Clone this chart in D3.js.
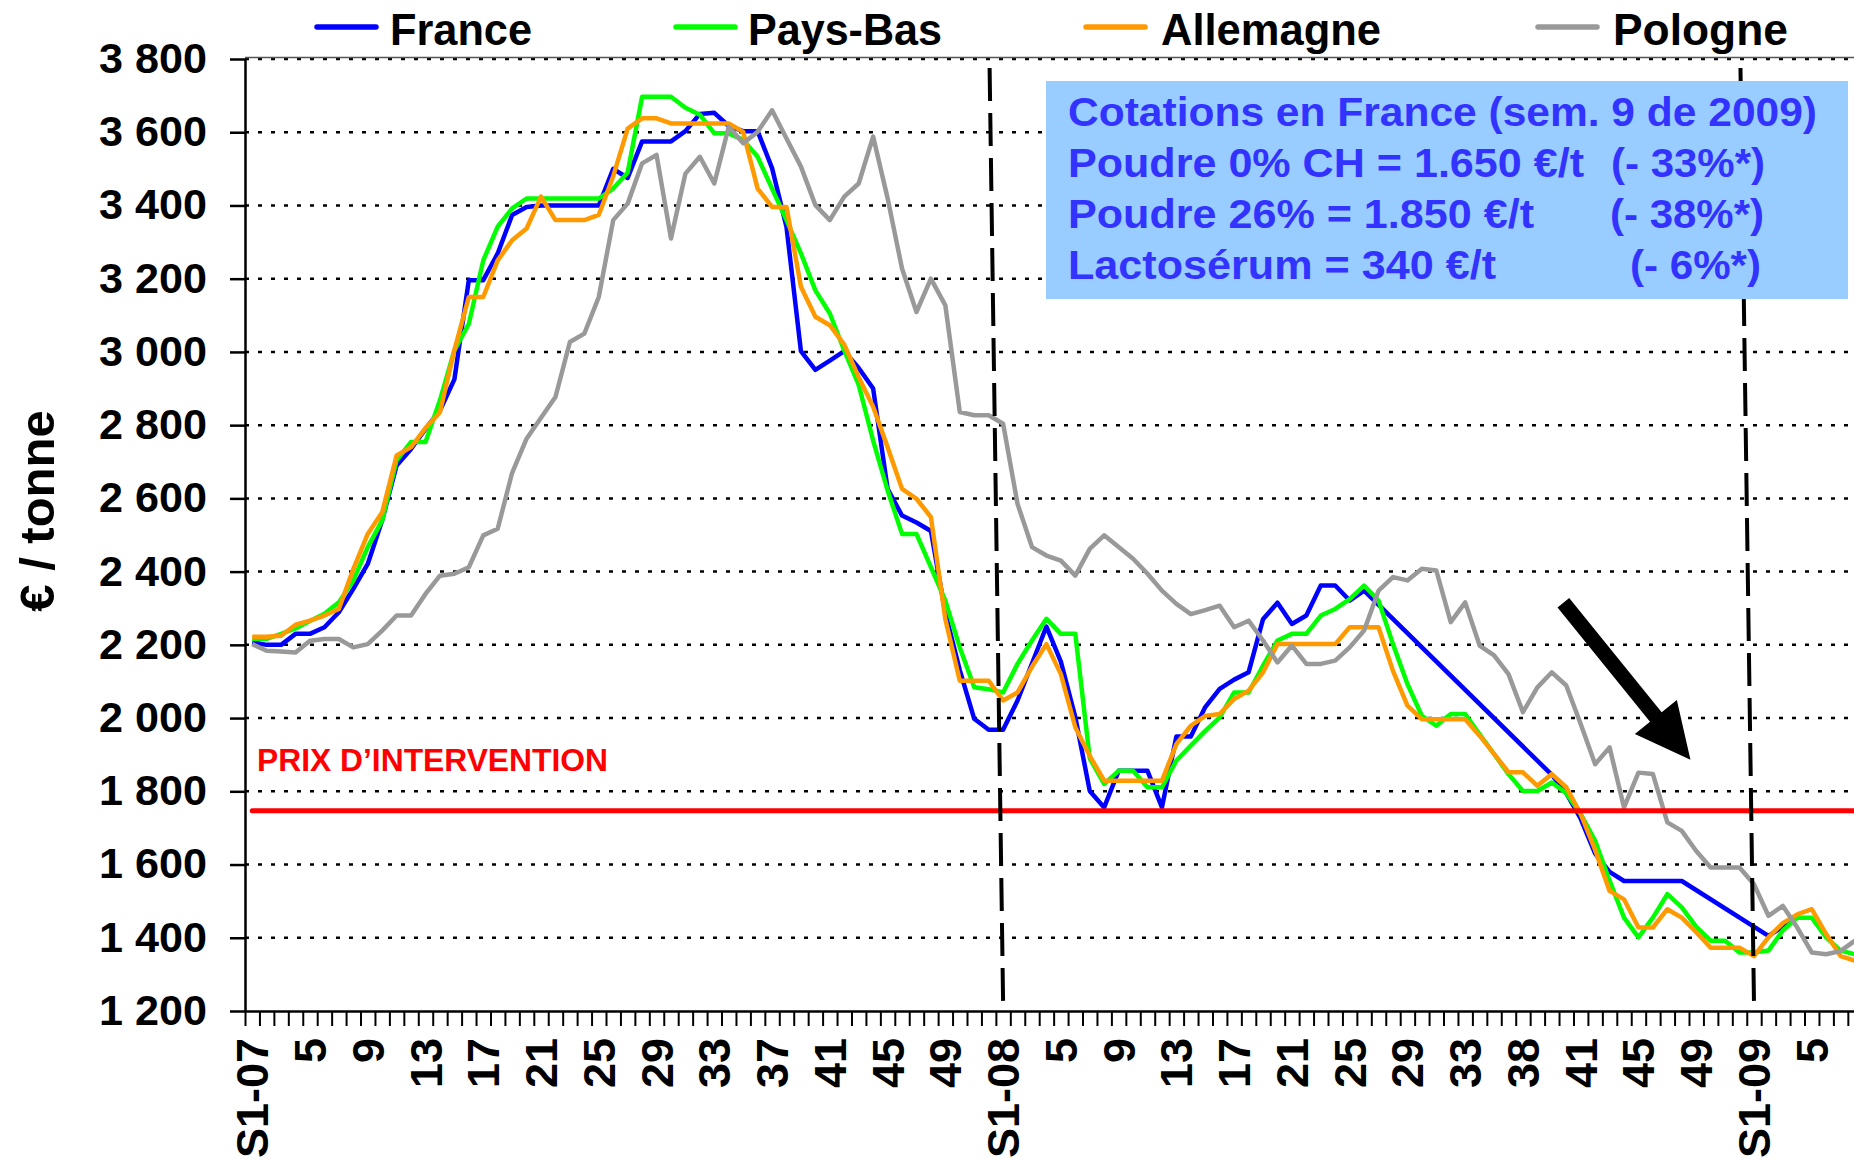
<!DOCTYPE html>
<html>
<head>
<meta charset="utf-8">
<script src="https://cdn.jsdelivr.net/npm/d3@7"></script>
<style>
  body { margin: 0; background: #fff; }
  svg { display: block; font-family: "Liberation Sans", Arial, sans-serif; font-weight: bold; }
</style>
</head>
<body>
<script>
// Constant
const w = 1854;
const h = 1165;

// Weekly quotations in €/t, from S1-07 to S8-09 (null = no quotation that week)
const france = [
  2207, 2200, 2200, 2230, 2230, 2248, 2289, 2353, 2421, 2540, 2690, 2735, 2790, 2840, 2925, 3196,
  3196, 3269, 3374, 3396, 3400, 3400, 3400, 3400, 3400, 3500, 3475, 3575, 3575, 3575, 3603, 3650,
  3653, 3617, 3603, 3603, 3502, 3341, 3002, 2951, 2976, 3002, 2956, 2900, 2626, 2553, 2534, 2511,
  2287, 2131, 1998, 1968, 1968, 2048, 2149, 2250, 2154, 2003, 1801, 1756, 1856, 1856, 1856, 1756,
  1950, 1950, 2030, 2080, 2105, 2125, 2270, 2315, 2257, 2280, 2362, 2362, 2321, 2348, null, null,
  null, null, null, null, null, null, null, null, null, null, 1845, 1795, 1725, 1630, 1580, 1555,
  1555, 1555, 1555, 1555, null, null, null, null, null, 1405, 1430, 1462, null, null, null, null
];
const paysBas = [
  2216, 2216, 2230, 2245, 2265, 2285, 2316, 2376, 2467, 2540, 2704, 2754, 2754, 2868, 3004, 3077,
  3250, 3342, 3392, 3419, 3419, 3419, 3419, 3419, 3419, 3446, 3490, 3697, 3697, 3697, 3667, 3648,
  3597, 3597, 3579, 3533, 3446, 3360, 3269, 3168, 3105, 3004, 2910, 2758, 2622, 2503, 2503, 2412,
  2321, 2193, 2084, 2079, 2070, 2148, 2212, 2271, 2230, 2230, 1890, 1820, 1856, 1856, 1811, 1811,
  1884, 1925, 1965, 2002, 2070, 2070, 2143, 2212, 2230, 2230, 2280, 2298, 2325, 2362, 2321, 2202,
  2093, 2006, 1979, 2011, 2011, 1956, 1902, 1847, 1801, 1801, 1824, 1795, 1738, 1665, 1556, 1455,
  1401, 1455, 1519, 1483, 1430, 1392, 1392, 1360, 1360, 1365, 1420, 1455, 1455, 1401, 1365, 1355
];
const allemagne = [
  2222, 2222, 2225, 2255, 2266, 2280, 2298, 2407, 2503, 2562, 2717, 2740, 2792, 2835, 3005, 3150,
  3150, 3250, 3305, 3337, 3424, 3360, 3360, 3360, 3374, 3480, 3610, 3638, 3638, 3624, 3624, 3624,
  3624, 3624, 3601, 3446, 3396, 3396, 3178, 3096, 3073, 3020, 2931, 2850, 2740, 2626, 2599, 2549,
  2270, 2102, 2102, 2102, 2048, 2070, 2140, 2202, 2120, 1975, 1897, 1829, 1829, 1829, 1829, 1829,
  1929, 1979, 2006, 2011, 2052, 2075, 2125, 2202, 2202, 2202, 2202, 2202, 2248, 2248, 2248, 2129,
  2034, 1997, 1997, 1997, 1997, 1952, 1902, 1852, 1852, 1815, 1847, 1811, 1738, 1640, 1528, 1505,
  1428, 1428, 1478, 1455, 1415, 1373, 1373, 1373, 1350, 1401, 1440, 1464, 1478, 1410, 1350, 1337
];
const pologne = [
  2202, 2184, 2182, 2179, 2211, 2216, 2216, 2193, 2202, 2239, 2280, 2280, 2339, 2389, 2394, 2412,
  2499, 2517, 2670, 2763, 2820, 2877, 3027, 3050, 3150, 3360, 3405, 3515, 3538, 3310, 3487, 3533,
  3460, 3615, 3570, 3601, 3660, 3583, 3506, 3401, 3360, 3424, 3460, 3588, 3420, 3228, 3109, 3200,
  3127, 2836, 2827, 2827, 2804, 2585, 2467, 2444, 2430, 2389, 2462, 2499, 2467, 2435, 2394, 2348,
  2312, 2284, 2295, 2307, 2248, 2266, 2212, 2152, 2198, 2148, 2148, 2157, 2193, 2239, 2348, 2385,
  2376, 2408, 2403, 2262, 2316, 2198, 2171, 2120, 2016, 2084, 2125, 2089, 1984, 1874, 1920, 1756,
  1851, 1847, 1715, 1692, 1637, 1592, 1592, 1592, 1546, 1460, 1487, 1428, 1360, 1355, 1364, 1392
];

const seriesNames = ['France', 'Pays-Bas', 'Allemagne', 'Pologne'];
const seriesColors = ['#0000ff', '#00ff00', '#ff9900', '#999999'];

// x labels, one every 4 weeks
const xLabels = ['S1-07', '5', '9', '13', '17', '21', '25', '29', '33', '37', '41', '45', '49',
                 'S1-08', '5', '9', '13', '17', '21', '25', '29', '33', '38', '41', '45', '49',
                 'S1-09', '5'];
const yTicks = [1200, 1400, 1600, 1800, 2000, 2200, 2400, 2600, 2800, 3000, 3200, 3400, 3600, 3800];

// intervention price and start of each new year (week index)
const prixIntervention = 1747;
const yearStarts = [52, 104];

// trend arrow, in (week index, €/t)
const arrowFrom = [90.8, 2315];
const arrowTo = [99.6, 1886];

const boxLines = [
  ['Cotations en France (sem. 9 de 2009)', 749, null, 0, 0],
  ['Poudre 0% CH = 1.650 €/t', 516, '(- 33%*)', 1611, 154],
  ['Poudre 26% = 1.850 €/t', 466, '(- 38%*)', 1610, 154],
  ['Lactosérum = 340 €/t', 428, '(- 6%*)', 1630, 131]
];

// Create the svg canvas
const svg = d3.select('body')
  .append('svg')
  .attr('width', w)
  .attr('height', h);

const N = france.length;
const step = 14.44;
const plotLeft = 245, plotTop = 59, plotBottom = 1011;

const x = d3.scaleLinear().domain([0, N]).range([plotLeft, plotLeft + N * step]);
const cx = (i) => x(i + 0.5);
const y = d3.scaleLinear().domain([1200, 3800]).range([plotBottom, plotTop]);

// Gridlines
svg.append('g')
  .selectAll('line')
  .data(yTicks.slice(1))
  .enter()
  .append('line')
  .attr('x1', plotLeft).attr('x2', w)
  .attr('y1', (d) => y(d)).attr('y2', (d) => y(d))
  .attr('stroke', '#000')
  .attr('stroke-width', 2.5)
  .attr('stroke-dasharray', '4,9');

// top border of plot area
svg.append('line')
  .attr('x1', plotLeft).attr('x2', w)
  .attr('y1', plotTop - 1.5).attr('y2', plotTop - 1.5)
  .attr('stroke', '#555')
  .attr('stroke-width', 1.5);

// Y axis
const yAxis = svg.append('g')
  .attr('transform', `translate(${plotLeft},0)`)
  .call(d3.axisLeft(y)
    .tickValues(yTicks)
    .tickSize(15)
    .tickSizeOuter(0)
    .tickPadding(23)
    .tickFormat((d) => d3.format(',')(d).replace(',', ' ')));
yAxis.select('.domain').attr('stroke', '#000').attr('stroke-width', 2.5);
yAxis.selectAll('.tick line').attr('stroke', '#000').attr('stroke-width', 2.5);
yAxis.selectAll('.tick text')
  .attr('fill', '#000')
  .style('font-size', '42px')
  .style('font-family', '"Liberation Sans", Arial, sans-serif')
  .style('font-weight', 'bold')
  .attr('textLength', 108)
  .attr('lengthAdjust', 'spacingAndGlyphs');

// Y axis title
svg.append('text')
  .attr('transform', `translate(54,511) rotate(-90)`)
  .attr('text-anchor', 'middle')
  .style('font-size', '49px')
  .text('€ / tonne');

// X axis: one tick per week
const xAxis = svg.append('g')
  .attr('transform', `translate(0,${plotBottom})`)
  .call(d3.axisBottom(x)
    .tickValues(d3.range(N + 1))
    .tickSize(15)
    .tickSizeOuter(0)
    .tickFormat(''));
xAxis.select('.domain').attr('stroke', '#000').attr('stroke-width', 2.5);
xAxis.selectAll('.tick line').attr('stroke', '#000').attr('stroke-width', 2);

// x labels
svg.append('g')
  .selectAll('text')
  .data(xLabels)
  .enter()
  .append('text')
  .attr('transform', (d, k) => `translate(${cx(k * 4) + 16},1038) rotate(-90)`)
  .attr('text-anchor', 'end')
  .style('font-size', '45px')
  .text((d) => d);

// Lines
const line = d3.line()
  .x((d) => cx(d.i))
  .y((d) => y(d.v));

[france, paysBas, allemagne, pologne].forEach((s, k) => {
  const pts = s.map((v, i) => ({ i: i, v: v })).filter((d) => d.v !== null);
  svg.append('path')
    .datum(pts)
    .attr('d', line)
    .attr('fill', 'none')
    .attr('stroke', seriesColors[k])
    .attr('stroke-width', 4.5)
    .attr('stroke-linejoin', 'round');
});

// intervention price
svg.append('line')
  .attr('x1', cx(0)).attr('x2', w + 10)
  .attr('y1', y(prixIntervention)).attr('y2', y(prixIntervention))
  .attr('stroke', '#ff0000')
  .attr('stroke-width', 5)
  .attr('stroke-linecap', 'round');

svg.append('text')
  .attr('x', 257)
  .attr('y', 771)
  .attr('fill', '#ff0000')
  .style('font-size', '31px')
  .attr('textLength', 351)
  .attr('lengthAdjust', 'spacingAndGlyphs')
  .text('PRIX D’INTERVENTION');

// year separators (hand drawn, slightly slanted)
svg.append('g')
  .selectAll('line')
  .data(yearStarts)
  .enter()
  .append('line')
  .attr('x1', (d) => cx(d) - 13.5).attr('y1', 68)
  .attr('x2', (d) => cx(d)).attr('y2', 1002)
  .attr('stroke', '#000')
  .attr('stroke-width', 4)
  .attr('stroke-dasharray', '33,12');

// info box
svg.append('rect')
  .attr('x', 1046).attr('y', 81)
  .attr('width', 802).attr('height', 218)
  .attr('fill', '#99ccff');

const boxText = svg.append('g').attr('fill', '#3333ff').style('font-size', '41px');
boxLines.forEach((l, k) => {
  const by = 126 + k * 51;
  boxText.append('text')
    .attr('x', 1068).attr('y', by)
    .attr('textLength', l[1])
    .attr('lengthAdjust', 'spacingAndGlyphs')
    .text(l[0]);
  if (l[2]) {
    boxText.append('text')
      .attr('x', l[3]).attr('y', by)
      .attr('textLength', l[4])
      .attr('lengthAdjust', 'spacingAndGlyphs')
      .text(l[2]);
  }
});

// trend arrow
const ax0 = cx(arrowFrom[0]), ay0 = y(arrowFrom[1]);
const ax1 = cx(arrowTo[0]), ay1 = y(arrowTo[1]);
const len = Math.hypot(ax1 - ax0, ay1 - ay0);
const ux = (ax1 - ax0) / len, uy = (ay1 - ay0) / len;
const px = -uy, py = ux;
const sw = 7.5, hw = 27, hl = 55;
const bx = ax1 - ux * hl, by = ay1 - uy * hl;
svg.append('polygon')
  .attr('points', [
    [ax0 + px * sw, ay0 + py * sw],
    [bx + px * sw, by + py * sw],
    [bx + px * hw, by + py * hw],
    [ax1, ay1],
    [bx - px * hw, by - py * hw],
    [bx - px * sw, by - py * sw],
    [ax0 - px * sw, ay0 - py * sw]
  ].map((p) => p.join(',')).join(' '))
  .attr('fill', '#000');

// Legend
const legendX = [[317, 390, 142], [676, 748, 194], [1086, 1161, 220], [1538, 1613, 175]];
seriesNames.forEach((name, k) => {
  svg.append('line')
    .attr('x1', legendX[k][0]).attr('x2', legendX[k][0] + 59)
    .attr('y1', 27).attr('y2', 27)
    .attr('stroke', seriesColors[k])
    .attr('stroke-width', 5.5)
    .attr('stroke-linecap', 'round');
  svg.append('text')
    .attr('x', legendX[k][1]).attr('y', 45)
    .style('font-size', '44px')
    .attr('textLength', legendX[k][2])
    .attr('lengthAdjust', 'spacingAndGlyphs')
    .text(name);
});
</script>
</body>
</html>
